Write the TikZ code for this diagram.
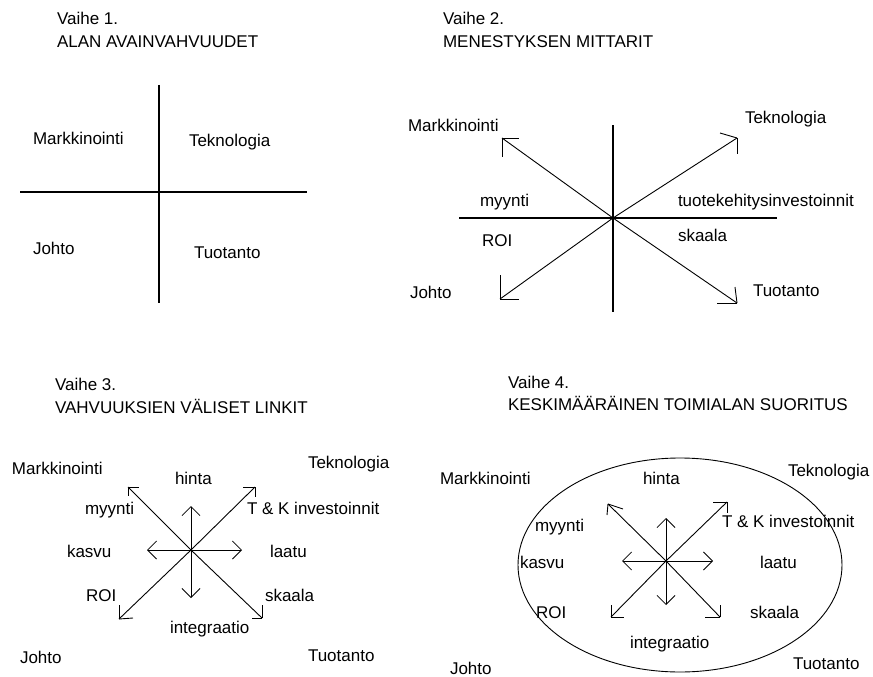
\documentclass[tikz,border=0pt]{standalone}
\usepackage{fontspec}
\setmainfont{Liberation Sans}
\usetikzlibrary{arrows.meta}
\tikzset{
  lbl/.style={anchor=base west, inner sep=0pt, outer sep=0pt, font=\fontsize{17}{20}\selectfont, text=black},
  ln/.style={line width=1.1pt, black},
  thin/.style={line width=0.9pt, black},
  barb/.style={line width=1pt, black, arrows={Straight Barb[length=9pt,width=18pt,line width=0.8pt]-Straight Barb[length=9pt,width=18pt,line width=0.8pt]}}
}
\begin{document}
\begin{tikzpicture}[x=1pt,y=-1pt]
\useasboundingbox (0,0) rectangle (873,677);
% ---------- Panel 1 ----------
\node[lbl] (t1a) at (57,25) {Vaihe 1.};
\node[lbl] (t1b) at (57,48) {ALAN AVAINVAHVUUDET};
\coordinate (v1t) at (159,85); \coordinate (v1b) at (159,303);
\coordinate (h1l) at (20,192); \coordinate (h1r) at (307,192);
\draw[ln] (v1t) -- (v1b);
\draw[ln] (h1l) -- (h1r);
\node[lbl] (m1) at (33,144) {Markkinointi};
\node[lbl] (k1) at (189,146) {Teknologia};
\node[lbl] (j1) at (33,254) {Johto};
\node[lbl] (u1) at (194,258) {Tuotanto};
% ---------- Panel 2 ----------
\node[lbl] (t2a) at (443,25) {Vaihe 2.};
\node[lbl] (t2b) at (443,48) {MENESTYKSEN MITTARIT};
\coordinate (c2) at (613,218);
\coordinate (v2t) at (613,125); \coordinate (v2b) at (613,312);
\coordinate (h2l) at (459,218); \coordinate (h2r) at (777,218);
\draw[ln] (v2t) -- (v2b);
\draw[ln] (h2l) -- (h2r);
\coordinate (a2ul) at (502,138); \coordinate (a2ur) at (737,138);
\coordinate (a2dl) at (500,299); \coordinate (a2dr) at (737,303);
\draw[thin] (c2) -- (a2ul); \draw[thin] (a2ul) -- ++(17,0); \draw[thin] (a2ul) -- ++(0,19);
\draw[thin] (c2) -- (a2ur); \draw[thin] (a2ur) -- ++(-17,-5); \draw[thin] (a2ur) -- ++(0,16);
\draw[thin] (c2) -- (a2dl); \draw[thin] (a2dl) -- ++(0,-24); \draw[thin] (a2dl) -- ++(19,0);
\draw[thin] (c2) -- (a2dr); \draw[thin] (a2dr) -- ++(-20,0); \draw[thin] (a2dr) -- ++(-2,-16);
\node[lbl] (m2) at (408,131) {Markkinointi};
\node[lbl] (k2) at (745,123) {Teknologia};
\node[lbl] (my2) at (480,206) {myynti};
\node[lbl] (tk2) at (678,206) {tuotekehitysinvestoinnit};
\node[lbl] (r2) at (482,246) {ROI};
\node[lbl] (s2) at (678,241) {skaala};
\node[lbl] (j2) at (410,298) {Johto};
\node[lbl] (u2) at (753,296) {Tuotanto};
% ---------- Panel 3 ----------
\node[lbl] (t3a) at (55,390) {Vaihe 3.};
\node[lbl] (t3b) at (55,413) {VAHVUUKSIEN VÄLISET LINKIT};
\coordinate (c3) at (191,550);
\coordinate (a3ul) at (128,487); \coordinate (a3ur) at (255,487);
\coordinate (a3dl) at (119,619); \coordinate (a3dr) at (262,618);
\draw[thin] (c3) -- (a3ul); \draw[thin] (a3ul) -- ++(11,0); \draw[thin] (a3ul) -- ++(0,9);
\draw[thin] (c3) -- (a3ur); \draw[thin] (a3ur) -- ++(-12,0); \draw[thin] (a3ur) -- ++(0,10);
\draw[thin] (c3) -- (a3dl); \draw[thin] (a3dl) -- ++(0,-14); \draw[thin] (a3dl) -- ++(14,-1);
\draw[thin] (c3) -- (a3dr); \draw[thin] (a3dr) -- ++(0,-13); \draw[thin] (a3dr) -- ++(-10,0);
\coordinate (h3l) at (147,550); \coordinate (h3r) at (242,550);
\coordinate (v3t) at (191,506); \coordinate (v3b) at (191,598);
\draw[barb] (h3l) -- (h3r);
\draw[barb] (v3t) -- (v3b);
\node[lbl] (m3) at (12,474) {Markkinointi};
\node[lbl] (k3) at (308,468) {Teknologia};
\node[lbl] (hi3) at (175,484) {hinta};
\node[lbl] (my3) at (85,514) {myynti};
\node[lbl] (tk3) at (247,514) {T \& K investoinnit};
\node[lbl] (ka3) at (67,557) {kasvu};
\node[lbl] (la3) at (270,557) {laatu};
\node[lbl] (r3) at (86,601) {ROI};
\node[lbl] (s3) at (265,601) {skaala};
\node[lbl] (in3) at (170,633) {integraatio};
\node[lbl] (j3) at (20,663) {Johto};
\node[lbl] (u3) at (308,661) {Tuotanto};
% ---------- Panel 4 ----------
\node[lbl] (t4a) at (508,388) {Vaihe 4.};
\node[lbl] (t4b) at (508,410) {KESKIMÄÄRÄINEN TOIMIALAN SUORITUS};
\draw[thin] (680,565) ellipse [x radius=162, y radius=107];
\coordinate (c4) at (666,561);
\coordinate (a4ul) at (608,504); \coordinate (a4ur) at (727,502);
\coordinate (a4dl) at (611,617); \coordinate (a4dr) at (720,617);
\draw[thin] (c4) -- (a4ul); \draw[thin] (a4ul) -- ++(15,5); \draw[thin] (a4ul) -- ++(-1,11);
\draw[thin] (c4) -- (a4ur); \draw[thin] (a4ur) -- ++(-14,0); \draw[thin] (a4ur) -- ++(0,11);
\draw[thin] (c4) -- (a4dl); \draw[thin] (a4dl) -- ++(0,-12); \draw[thin] (a4dl) -- ++(13,0);
\draw[thin] (c4) -- (a4dr); \draw[thin] (a4dr) -- ++(0,-12); \draw[thin] (a4dr) -- ++(-15,0);
\coordinate (h4l) at (622,561); \coordinate (h4r) at (713,561);
\coordinate (v4t) at (666,518); \coordinate (v4b) at (666,605);
\draw[barb] (h4l) -- (h4r);
\draw[barb] (v4t) -- (v4b);
\node[lbl] (m4) at (440,484) {Markkinointi};
\node[lbl] (k4) at (788,476) {Teknologia};
\node[lbl] (hi4) at (643,484) {hinta};
\node[lbl] (my4) at (535,531) {myynti};
\node[lbl] (tk4) at (722,527) {T \& K investoinnit};
\node[lbl] (ka4) at (520,568) {kasvu};
\node[lbl] (la4) at (760,568) {laatu};
\node[lbl] (r4) at (536,618) {ROI};
\node[lbl] (s4) at (750,618) {skaala};
\node[lbl] (in4) at (630,648) {integraatio};
\node[lbl] (j4) at (450,674) {Johto};
\node[lbl] (u4) at (793,669) {Tuotanto};
\end{tikzpicture}
\end{document}
